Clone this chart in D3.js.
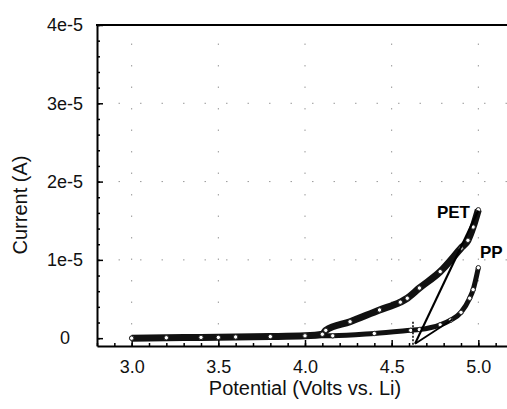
<!DOCTYPE html>
<html lang="en">
<head>
<meta charset="utf-8">
<title>Current vs potential</title>
<style>
	body {
		margin: 0;
		background-color: white;
		font-family: Arial, "Liberation Sans", Helvetica, sans-serif;
	}
	.tick text {
		font-size: 18px;
		fill: #111;
	}
	.axis-title {
		font-size: 20px;
		fill: #111;
	}
	.series-label {
		font-size: 17px;
		font-weight: bold;
		fill: #000;
	}
</style>
</head>
<body>
<div id="chart"></div>
<script src="https://d3js.org/d3.v7.min.js"></script>
<script>

// values (current in units of 1e-5 A)
var petV = [3.0, 3.2, 3.4, 3.6, 3.8, 4.0, 4.10, 4.12, 4.26, 4.43, 4.55, 4.59, 4.66, 4.78, 4.90, 4.94, 4.97, 5.00];
var petI = [0.0, 0.005, 0.01, 0.015, 0.02, 0.03, 0.05, 0.10, 0.21, 0.36, 0.46, 0.51, 0.64, 0.85, 1.15, 1.25, 1.42, 1.64];

var ppV = [3.0, 3.5, 4.0, 4.16, 4.40, 4.61, 4.66, 4.78, 4.84, 4.90, 4.95, 4.97, 5.00];
var ppI = [0.0, 0.01, 0.03, 0.03, 0.06, 0.10, 0.11, 0.17, 0.23, 0.33, 0.51, 0.62, 0.90];

// onset construction lines (tangents and marker)
var tangentPET = [[4.635, -0.07], [5.00, 1.63]];
var tangentPP = [[4.635, -0.07], [4.85, 0.24]];
var onsetMark = [[4.623, 0.21], [4.623, -0.1]];

var xTicks = [3.0, 3.5, 4.0, 4.5, 5.0];
var yTicks = [0, 1, 2, 3, 4];
var yTickLabels = ["0", "1e-5", "2e-5", "3e-5", "4e-5"];

var width = 507;
var height = 409;
var margin = {left: 97, top: 25, right: -6, bottom: 63};

var svg = d3.select("#chart")
	.append("svg")
	.attr("width", width)
	.attr("height", height);

var x = d3.scaleLinear()
	.domain([2.8, 5.2])
	.range([margin.left, width - margin.right]);

var y = d3.scaleLinear()
	.domain([-0.1, 4])
	.range([height - margin.bottom, margin.top]);

// faint dotted grid
var grid = svg.append("g").attr("class", "grid");
grid.selectAll("line.gx")
	.data(xTicks)
	.enter()
	.append("line")
	.attr("x1", function(d){ return x(d); })
	.attr("x2", function(d){ return x(d); })
	.attr("y1", y(-0.1))
	.attr("y2", y(4))
	.attr("stroke", "#999")
	.attr("stroke-width", 1)
	.attr("stroke-dasharray", "1.5,20");
grid.selectAll("line.gy")
	.data(yTicks.slice(1, 4))
	.enter()
	.append("line")
	.attr("x1", x(2.8))
	.attr("x2", x(5.2))
	.attr("y1", function(d){ return y(d); })
	.attr("y2", function(d){ return y(d); })
	.attr("stroke", "#999")
	.attr("stroke-width", 1)
	.attr("stroke-dasharray", "1.5,20");

// axes, ticks pointing inward
var xMinor = d3.range(2.8, 5.21, 0.1);
var yMinor = d3.range(-0.0, 4.01, 0.2);

var xAxis = svg.append("g")
	.attr("transform", "translate(0," + y(-0.1) + ")")
	.call(d3.axisBottom(x).tickValues(xTicks).tickFormat(d3.format(".1f")).tickSizeInner(-6).tickSizeOuter(0).tickPadding(14));
svg.append("g")
	.attr("transform", "translate(0," + y(-0.1) + ")")
	.call(d3.axisBottom(x).tickValues(xMinor).tickFormat("").tickSizeInner(-3).tickSizeOuter(0))
	.select(".domain").remove();

var yAxis = svg.append("g")
	.attr("transform", "translate(" + x(2.8) + ",0)")
	.call(d3.axisLeft(y).tickValues(yTicks).tickFormat(function(d, i){ return yTickLabels[i]; }).tickSizeInner(-6).tickSizeOuter(0).tickPadding(0));
yAxis.selectAll(".tick text")
	.attr("text-anchor", "middle")
	.attr("x", -32);
svg.append("g")
	.attr("transform", "translate(" + x(2.8) + ",0)")
	.call(d3.axisLeft(y).tickValues(yMinor).tickFormat("").tickSizeInner(-3).tickSizeOuter(0))
	.select(".domain").remove();

svg.selectAll(".domain").attr("stroke", "#000").attr("stroke-width", 2);
svg.selectAll(".tick line").attr("stroke", "#000").attr("stroke-width", 1.5);

// top frame line
svg.append("line")
	.attr("x1", x(2.8) - 1)
	.attr("x2", width)
	.attr("y1", y(4))
	.attr("y2", y(4))
	.attr("stroke", "#000")
	.attr("stroke-width", 2);

// axis titles
svg.append("text")
	.attr("class", "axis-title")
	.attr("x", (x(2.8) + x(5.2)) / 2)
	.attr("y", 395)
	.attr("text-anchor", "middle")
	.text("Potential (Volts vs. Li)");

svg.append("text")
	.attr("class", "axis-title")
	.attr("transform", "translate(27," + 205 + ") rotate(-90)")
	.attr("text-anchor", "middle")
	.text("Current (A)");

// series
var line = d3.line()
	.x(function(d){ return x(d[0]); })
	.y(function(d){ return y(d[1]); })
	.curve(d3.curveMonotoneX);

function pairs(vs, is){
	return vs.map(function(v, i){ return [v, is[i]]; });
}

var petData = pairs(petV, petI);
var ppData = pairs(ppV, ppI);

var plot = svg.append("g");

plot.append("path")
	.datum(ppData)
	.attr("d", line)
	.attr("fill", "none")
	.attr("stroke", "#111")
	.attr("stroke-width", 5);

plot.append("path")
	.datum(petData)
	.attr("d", line)
	.attr("fill", "none")
	.attr("stroke", "#111")
	.attr("stroke-width", 7);

[petData, ppData].forEach(function(data){
	plot.append("g")
		.selectAll("circle")
		.data(data)
		.enter()
		.append("circle")
		.attr("cx", function(d){ return x(d[0]); })
		.attr("cy", function(d){ return y(d[1]); })
		.attr("r", 2.2)
		.attr("fill", "#fff")
		.attr("stroke", "#222")
		.attr("stroke-width", 1);
});

// construction lines
var straight = d3.line()
	.x(function(d){ return x(d[0]); })
	.y(function(d){ return y(d[1]); });

plot.append("path")
	.attr("d", straight(tangentPET))
	.attr("fill", "none")
	.attr("stroke", "#000")
	.attr("stroke-width", 2.2);

plot.append("path")
	.attr("d", straight(tangentPP))
	.attr("fill", "none")
	.attr("stroke", "#000")
	.attr("stroke-width", 1.8);

plot.append("path")
	.attr("d", straight(onsetMark))
	.attr("fill", "none")
	.attr("stroke", "#000")
	.attr("stroke-width", 1.5)
	.attr("stroke-dasharray", "2,1.5");

// series labels
svg.append("text")
	.attr("class", "series-label")
	.attr("x", 470)
	.attr("y", 218)
	.attr("text-anchor", "end")
	.text("PET");

svg.append("text")
	.attr("class", "series-label")
	.attr("x", 480)
	.attr("y", 258)
	.text("PP");

</script>
</body>
</html>
